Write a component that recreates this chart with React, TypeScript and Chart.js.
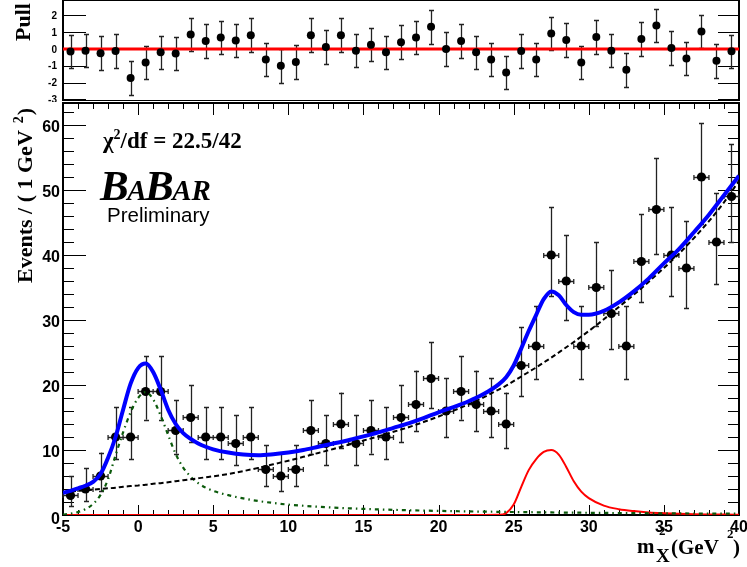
import React, { useEffect, useRef } from "react";
import { Chart, registerables } from "chart.js";

Chart.register(...registerables);

// ---------------- data ----------------
const binCenters = [
  -4.5, -3.5, -2.5, -1.5, -0.5, 0.5, 1.5, 2.5, 3.5, 4.5, 5.5, 6.5, 7.5, 8.5, 9.5,
  10.5, 11.5, 12.5, 13.5, 14.5, 15.5, 16.5, 17.5, 18.5, 19.5, 20.5, 21.5, 22.5,
  23.5, 24.5, 25.5, 26.5, 27.5, 28.5, 29.5, 30.5, 31.5, 32.5, 33.5, 34.5, 35.5,
  36.5, 37.5, 38.5, 39.5,
];
const events = [
  3, 4, 6, 12, 12, 19, 19, 13, 15, 12, 12, 11, 12, 7, 6,
  7, 13, 11, 14, 11, 13, 12, 15, 17, 21, 16, 19, 17,
  16, 14, 23, 26, 40, 36, 26, 35, 31, 26, 39, 47, 40,
  38, 52, 42, 49,
];
const pulls = [
  -0.15, -0.1, -0.25, -0.12, -1.72, -0.8, -0.2, -0.27, 0.86, 0.48, 0.68, 0.5, 0.82, -0.62, -1.0,
  -0.78, 0.82, 0.12, 0.82, -0.1, 0.26, -0.2, 0.4, 0.68, 1.32, 0.0, 0.48, -0.2,
  -0.62, -1.4, -0.12, -0.62, 0.92, 0.54, -0.8, 0.72, -0.1, -1.24, 0.6, 1.4, 0.06,
  -0.56, 1.04, -0.7, -0.14,
];

const curveX = [
  -5, -4.5, -4, -3.5, -3, -2.5, -2, -1.5, -1, -0.5, 0, 0.5, 1, 1.5, 2, 2.5, 3, 3.5, 4, 4.5, 5,
  6, 7, 8, 9, 10, 11, 12, 13, 14, 15, 16, 17, 18, 19, 20, 21, 22, 23, 24,
  24.5, 25, 25.5, 26, 26.5, 27, 27.5, 28, 28.5, 29, 29.5, 30,
  31, 32, 33, 34, 35, 36, 37, 38, 39, 40,
];
const totalFit = [
  3.4, 3.7, 4.1, 4.5, 5.1, 6.3, 8.8, 12.0, 16.2, 20.2, 22.6, 23.3, 22.0, 19.3, 16.2, 14.0, 12.6, 11.7, 11.0, 10.5, 10.1,
  9.6, 9.3, 9.2, 9.35, 9.6, 10.0, 10.5, 11.0, 11.5, 12.1, 12.7, 13.4, 14.1, 14.9, 15.8, 16.6, 17.5, 18.6, 20.1,
  21.2, 23.0, 25.6, 28.3, 30.8, 33.2, 34.4, 33.8, 32.3, 31.2, 30.8, 30.8,
  31.4, 32.7, 34.4, 36.4, 38.7, 40.9, 43.5, 46.2, 49.2, 52.2,
];
const backgroundFit = [
  3.5, 3.6, 3.7, 3.8, 3.9, 4.0, 4.1, 4.2, 4.35, 4.45, 4.55, 4.65, 4.8, 4.9, 5.05, 5.2, 5.35, 5.5, 5.65, 5.8, 5.95,
  6.3, 6.75, 7.25, 7.8, 8.35, 8.95, 9.55, 10.15, 10.8, 11.45, 12.1, 12.8, 13.5, 14.3, 15.15, 16.05, 17.05, 18.1, 19.3,
  19.9, 20.6, 21.3, 22.0, 22.7, 23.45, 24.2, 25.0, 25.8, 26.6, 27.45, 28.3,
  30.1, 32.0, 33.9, 35.9, 38.0, 40.2, 42.6, 45.2, 48.1, 51.4,
];
const peakFit = [
  0.05, 0.2, 0.45, 0.9, 1.7, 3.1, 5.5, 9.2, 12.7, 15.8, 18.0, 18.9, 17.8, 15.3, 12.3, 9.4, 7.3, 5.9, 4.9, 4.2, 3.7,
  3.05, 2.55, 2.15, 1.85, 1.6, 1.42, 1.27, 1.14, 1.03, 0.94, 0.86, 0.79, 0.73, 0.68, 0.63, 0.59, 0.55, 0.52, 0.49,
  0.47, 0.46, 0.44, 0.43, 0.42, 0.4, 0.39, 0.38, 0.37, 0.36, 0.35, 0.34,
  0.32, 0.3, 0.28, 0.27, 0.25, 0.24, 0.23, 0.22, 0.21, 0.2,
];
const signalFit = [
  0, 0, 0, 0, 0, 0, 0, 0, 0, 0, 0, 0, 0, 0, 0, 0, 0, 0, 0, 0, 0,
  0, 0, 0, 0, 0, 0, 0, 0, 0, 0, 0, 0, 0, 0, 0, 0, 0, 0, 0.02,
  0.3, 1.6, 4.3, 6.9, 8.6, 9.7, 10.0, 9.3, 7.4, 5.2, 3.6, 2.6,
  1.45, 0.9, 0.6, 0.4, 0.28, 0.19, 0.13, 0.09, 0.06, 0.04,
];

const xTicks = [-5, 0, 5, 10, 15, 20, 25, 30, 35, 40];
const yTicks = [0, 10, 20, 30, 40, 50, 60];
const pullTicks = [-3, -2, -1, 0, 1, 2];

// ---------------- layout constants ----------------
const W = 747;
const PULL_H = 102;
const MAIN_TOP = 101;
const MAIN_H = 567 - MAIN_TOP;

const poissonLow = (n: number) =>
  n <= 0 ? 0 : n * Math.pow(1 - 1 / (9 * n) - 1 / (3 * Math.sqrt(n)), 3);
const poissonHigh = (n: number) => n + Math.sqrt(n + 0.75) + 1;

const sans = '"Liberation Sans", Arial, sans-serif';
const serif = '"Liberation Serif", "Times New Roman", serif';

function line(ctx: CanvasRenderingContext2D, x1: number, y1: number, x2: number, y2: number) {
  ctx.moveTo(x1, y1);
  ctx.lineTo(x2, y2);
}

const mainDecor = {
  id: "mainDecor",
  beforeDatasetsDraw(chart: any) {
    const { ctx, chartArea: a, scales } = chart;
    const x = scales.x;
    const y = scales.y;
    ctx.save();
    ctx.strokeStyle = "#000";
    ctx.lineWidth = 1;
    ctx.beginPath();
    for (let v = -5; v <= 40; v++) {
      const px = Math.round(x.getPixelForValue(v)) + 0.5;
      const major = v % 5 === 0;
      line(ctx, px, a.bottom, px, a.bottom - (major ? 10 : 5));
      line(ctx, px, a.top, px, a.top + (major ? 12 : 6));
    }
    for (let v = 0; v <= 62; v += 2) {
      const py = Math.round(y.getPixelForValue(v)) + 0.5;
      const major = v % 10 === 0;
      line(ctx, a.left, py, a.left + (major ? 23 : 11), py);
      line(ctx, a.right, py, a.right - (major ? 21 : 11), py);
    }
    ctx.stroke();
    ctx.lineWidth = 2;
    ctx.strokeRect(a.left, a.top, a.right - a.left, a.bottom - a.top);

    // error bars
    ctx.lineWidth = 1.3;
    ctx.strokeStyle = "#222";
    ctx.beginPath();
    binCenters.forEach((c, i) => {
      const n = events[i];
      const px = x.getPixelForValue(c);
      const py = y.getPixelForValue(n);
      const x0 = x.getPixelForValue(c - 0.5);
      const x1 = x.getPixelForValue(c + 0.5);
      const yl = y.getPixelForValue(poissonLow(n));
      const yh = y.getPixelForValue(poissonHigh(n));
      const cx = Math.round(px) + 0.5;
      const cy = Math.round(py) + 0.5;
      line(ctx, x0, cy, x1, cy);
      line(ctx, x0, cy - 2.5, x0, cy + 2.5);
      line(ctx, x1, cy - 2.5, x1, cy + 2.5);
      line(ctx, cx, yl, cx, yh);
      line(ctx, cx - 2.5, Math.round(yl) + 0.5, cx + 2.5, Math.round(yl) + 0.5);
      line(ctx, cx - 2.5, Math.round(yh) + 0.5, cx + 2.5, Math.round(yh) + 0.5);
    });
    ctx.stroke();
    ctx.restore();
  },
  afterDraw(chart: any) {
    const { ctx, chartArea: a, scales } = chart;
    const x = scales.x;
    const y = scales.y;
    const Y = (py: number) => py - MAIN_TOP;
    ctx.save();
    ctx.fillStyle = "#000";
    ctx.textBaseline = "alphabetic";

    // tick labels
    ctx.font = `bold 16px ${sans}`;
    ctx.textAlign = "center";
    for (const v of xTicks) {
      ctx.fillText(String(v), x.getPixelForValue(v), a.bottom + 17);
    }
    ctx.textAlign = "right";
    for (const v of yTicks) {
      ctx.fillText(String(v), a.left - 3, y.getPixelForValue(v) + (v === 0 ? 9 : 7.5));
    }

    ctx.textAlign = "left";
    // chi2 text
    let xx = 103;
    ctx.font = `bold 23px ${serif}`;
    ctx.fillText("χ", xx, Y(148));
    xx += ctx.measureText("χ").width;
    ctx.font = `bold 14px ${serif}`;
    ctx.fillText("2", xx, Y(139));
    xx += ctx.measureText("2").width;
    ctx.font = `bold 23px ${serif}`;
    ctx.fillText("/df = 22.5/42", xx, Y(148));

    // BaBar logo
    const big = `italic bold 43px ${serif}`;
    const small = `italic bold 29px ${serif}`;
    const parts: [string, string][] = [["B", big], ["A", small], ["B", big], ["AR", small]];
    xx = 100;
    for (const [t, f] of parts) {
      ctx.font = f;
      ctx.fillText(t, xx, Y(200));
      xx += ctx.measureText(t).width - 1.5;
    }
    ctx.font = `20.5px ${sans}`;
    ctx.fillText("Preliminary", 107, Y(222));

    // y title
    ctx.save();
    ctx.translate(32, Y(283));
    ctx.rotate(-Math.PI / 2);
    ctx.font = `bold 22px ${serif}`;
    const t1 = "Events / ( 1 GeV";
    ctx.fillText(t1, 0, 0);
    let tx = ctx.measureText(t1).width + 7;
    ctx.font = `bold 14px ${serif}`;
    ctx.fillText("2", tx, -9);
    tx += ctx.measureText("2").width + 1;
    ctx.font = `bold 22px ${serif}`;
    ctx.fillText(")", tx, 0);
    ctx.restore();

    // x title
    ctx.font = `bold 21px ${serif}`;
    ctx.fillText("m", 637, Y(553));
    ctx.font = `bold 13px ${serif}`;
    ctx.fillText("2", 659, Y(535));
    ctx.font = `bold 19px ${serif}`;
    ctx.fillText("X", 656, Y(562));
    ctx.font = `bold 21px ${serif}`;
    ctx.fillText("(GeV", 671, Y(554));
    ctx.font = `bold 13px ${serif}`;
    ctx.fillText("2", 727, Y(538));
    ctx.font = `bold 21px ${serif}`;
    ctx.fillText(")", 733, Y(554));
    ctx.restore();
  },
};

const pullDecor = {
  id: "pullDecor",
  beforeDatasetsDraw(chart: any) {
    const { ctx, chartArea: a, scales } = chart;
    const x = scales.x;
    const y = scales.y;
    ctx.save();
    ctx.strokeStyle = "#000";
    ctx.lineWidth = 1;
    ctx.beginPath();
    for (const v of pullTicks) {
      const py = Math.round(y.getPixelForValue(v)) + 0.5;
      line(ctx, a.left, py, a.left + 23, py);
      line(ctx, a.right, py, a.right - 21, py);
    }
    ctx.stroke();
    ctx.lineWidth = 2;
    ctx.beginPath();
    line(ctx, a.left, a.top, a.left, a.bottom);
    line(ctx, a.right, a.top, a.right, a.bottom);
    line(ctx, a.left, a.top, a.right, a.top);
    ctx.stroke();
    ctx.lineWidth = 1;
    ctx.beginPath();
    line(ctx, a.left, a.bottom - 0.5, a.right, a.bottom - 0.5);
    ctx.stroke();

    ctx.strokeStyle = "#222";
    ctx.lineWidth = 1.3;
    ctx.beginPath();
    binCenters.forEach((c, i) => {
      const p = pulls[i];
      const cx = Math.round(x.getPixelForValue(c)) + 0.5;
      const yl = Math.round(y.getPixelForValue(p - 1)) + 0.5;
      const yh = Math.round(y.getPixelForValue(p + 1)) + 0.5;
      line(ctx, cx, yl, cx, yh);
      line(ctx, cx - 2.5, yl, cx + 2.5, yl);
      line(ctx, cx - 2.5, yh, cx + 2.5, yh);
    });
    ctx.stroke();
    ctx.restore();
  },
  afterDraw(chart: any) {
    const { ctx, chartArea: a, scales } = chart;
    const y = scales.y;
    ctx.save();
    ctx.fillStyle = "#000";
    ctx.textBaseline = "alphabetic";
    ctx.textAlign = "right";
    ctx.font = `bold 10px ${sans}`;
    for (const v of pullTicks) {
      ctx.fillText(String(v), a.left - 6, y.getPixelForValue(v) + 3.6);
    }
    ctx.textAlign = "left";
    ctx.translate(30, 41);
    ctx.rotate(-Math.PI / 2);
    ctx.font = `bold 22px ${serif}`;
    ctx.fillText("Pull", 0, 0);
    ctx.restore();
  },
};

function curve(values: number[]) {
  return curveX.map((x, i) => ({ x, y: values[i] }));
}

const hiddenScales = (ymin: number, ymax: number) => ({
  x: { type: "linear", min: xTicks[0], max: xTicks[xTicks.length - 1], display: false },
  y: { type: "linear", min: ymin, max: ymax, display: false },
});

export default function App() {
  const pullRef = useRef<HTMLCanvasElement>(null);
  const mainRef = useRef<HTMLCanvasElement>(null);

  useEffect(() => {
    document.body.style.margin = "0";
    const mainChart = new Chart(mainRef.current as HTMLCanvasElement, {
      type: "scatter",
      data: {
        datasets: [
          {
            label: "total",
            data: curve(totalFit),
            showLine: true,
            borderColor: "#0000ff",
            borderWidth: 4,
            pointRadius: 0,
            cubicInterpolationMode: "monotone",
            order: 1,
          },
          {
            label: "background",
            data: curve(backgroundFit),
            showLine: true,
            borderColor: "#000000",
            borderWidth: 2,
            borderDash: [5, 3],
            pointRadius: 0,
            cubicInterpolationMode: "monotone",
            order: 2,
          },
          {
            label: "peak",
            data: curve(peakFit),
            showLine: true,
            borderColor: "#0b5a0b",
            borderWidth: 2.2,
            borderDash: [4, 4, 1.5, 4],
            pointRadius: 0,
            cubicInterpolationMode: "monotone",
            order: 3,
          },
          {
            label: "signal",
            data: curve(signalFit),
            showLine: true,
            borderColor: "#ff0000",
            borderWidth: 2,
            pointRadius: 0,
            cubicInterpolationMode: "monotone",
            order: 4,
          },
          {
            label: "data",
            data: binCenters.map((x, i) => ({ x, y: events[i] })),
            pointRadius: 4.6,
            pointBackgroundColor: "#000",
            pointBorderColor: "#000",
            pointBorderWidth: 0,
            order: 5,
          },
        ],
      },
      options: {
        responsive: false,
        animation: false,
        events: [],
        layout: { padding: { left: 63, right: 8, top: 2, bottom: 52 }, autoPadding: false },
        plugins: { legend: { display: false }, tooltip: { enabled: false } },
        scales: hiddenScales(0, 63.38),
      },
      plugins: [mainDecor],
    } as any);

    const pullChart = new Chart(pullRef.current as HTMLCanvasElement, {
      type: "scatter",
      data: {
        datasets: [
          {
            label: "pull",
            data: binCenters.map((x, i) => ({ x, y: pulls[i] })),
            pointRadius: 4,
            pointBackgroundColor: "#000",
            pointBorderColor: "#000",
            pointBorderWidth: 0,
            order: 1,
          },
          {
            label: "zero",
            data: [
              { x: xTicks[0], y: 0 },
              { x: xTicks[xTicks.length - 1], y: 0 },
            ],
            showLine: true,
            borderColor: "#ff0000",
            borderWidth: 3,
            pointRadius: 0,
            order: 2,
          },
        ],
      },
      options: {
        responsive: false,
        animation: false,
        events: [],
        layout: { padding: { left: 63, right: 8, top: 0, bottom: 1 }, autoPadding: false },
        plugins: { legend: { display: false }, tooltip: { enabled: false } },
        scales: hiddenScales(-3.095, 2.917),
      },
      plugins: [pullDecor],
    } as any);

    return () => {
      mainChart.destroy();
      pullChart.destroy();
    };
  }, []);

  return (
    <div style={{ position: "relative", width: W, height: 567, background: "#fff", overflow: "hidden" }}>
      <canvas
        ref={mainRef}
        width={W}
        height={MAIN_H}
        style={{ position: "absolute", left: 0, top: MAIN_TOP }}
      />
      <canvas
        ref={pullRef}
        width={W}
        height={PULL_H}
        style={{ position: "absolute", left: 0, top: 0 }}
      />
    </div>
  );
}
